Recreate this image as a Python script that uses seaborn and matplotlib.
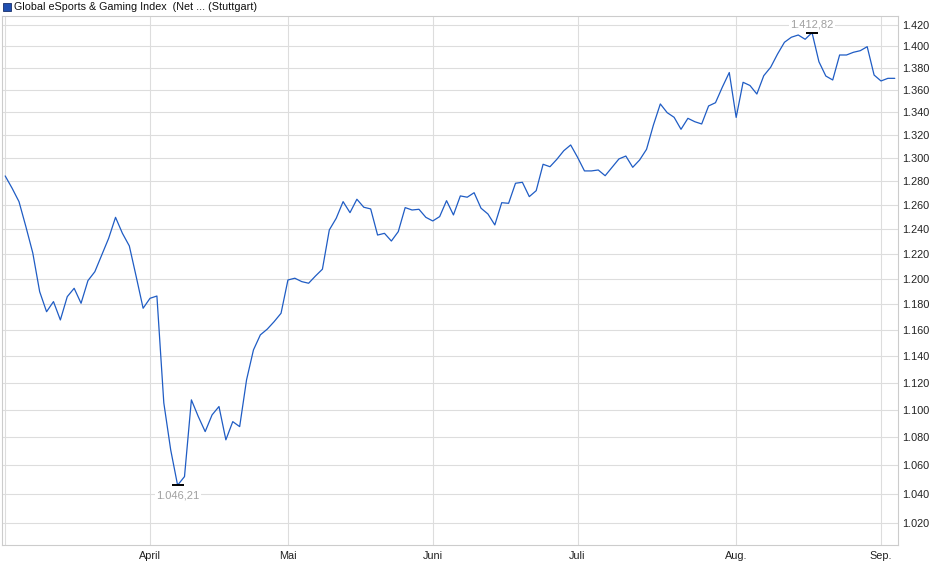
import numpy as np
import pandas as pd
import matplotlib
matplotlib.use('Agg')
import matplotlib.pyplot as plt
import seaborn as sns
from matplotlib.patches import Rectangle
from matplotlib.ticker import FixedLocator, NullLocator, FuncFormatter

# daily closing values (Stuttgart trading days, 3 Mar - 3 Sep 2025)
close = [
    1284.6, 1274.2, 1262.9, 1242.1, 1220.6, 1189.6, 1173.9, 1181.8, 1167.5, 1185.7,
    1192.3, 1180.5, 1198.4, 1205.5, 1219.0, 1232.5, 1249.8, 1236.6, 1226.3, 1201.5,
    1176.6, 1184.4, 1186.2, 1105.0, 1071.0, 1046.21, 1052.2, 1107.2, 1095.0, 1084.1,
    1096.2, 1102.3, 1078.2, 1091.3, 1087.7, 1122.0, 1144.5, 1156.0, 1160.4, 1166.2,
    1172.7, 1198.9, 1200.3, 1197.6, 1196.3, 1202.1, 1207.5, 1239.4, 1249.0, 1262.9,
    1253.7, 1264.9, 1258.2, 1256.8, 1235.2, 1236.6, 1230.3, 1238.0, 1257.9, 1255.9,
    1256.5, 1249.8, 1246.8, 1250.4, 1263.7, 1251.8, 1267.7, 1266.6, 1270.4, 1257.4,
    1252.6, 1243.5, 1262.0, 1261.5, 1278.4, 1279.2, 1267.1, 1272.1, 1294.6, 1292.5,
    1298.9, 1306.3, 1311.3, 1300.6, 1288.9, 1288.9, 1289.7, 1284.8, 1292.0, 1299.2,
    1301.7, 1292.0, 1298.3, 1307.5, 1328.8, 1347.5, 1339.7, 1335.6, 1325.0, 1334.7,
    1331.7, 1329.7, 1345.7, 1348.6, 1362.7, 1375.9, 1335.5, 1367.0, 1364.1, 1356.4,
    1373.0, 1380.7, 1392.9, 1403.8, 1408.5, 1410.6, 1406.6, 1412.82, 1385.8, 1372.7,
    1369.1, 1392.0, 1392.0, 1394.5, 1396.0, 1399.7, 1373.6, 1368.2, 1370.6, 1370.6,
]
day = list(range(len(close)))

# first trading day of each month (index into close)
month_pos = [0, 21, 41, 62, 83, 106, 127]
month_lbl = ['', 'April', 'Mai', 'Juni', 'Juli', 'Aug.', 'Sep.']
y_ticks = list(range(1020, 1421, 20))

title = 'Global eSports & Gaming Index  (Net ... (Stuttgart)'


def de_num(v, dec=0):
    s = f'{v:,.{dec}f}'
    return s.replace(',', 'X').replace('.', ',').replace('X', '.')


df = pd.DataFrame({'day': day, 'close': close})

sns.set_style('white')
plt.rcParams['font.family'] = ['Liberation Sans', 'DejaVu Sans']

W, H = 940, 579
fig = plt.figure(figsize=(W / 100, H / 100), dpi=100)
left, right, top, bottom = 2.3, 898.3, 16, 545
ax = fig.add_axes([left / W, 1 - bottom / H, (right - left) / W, (bottom - top) / H])

line_col = '#1f5cc4'
sns.lineplot(data=df, x='day', y='close', ax=ax, color=line_col, linewidth=0.9)

ax.set_yscale('log')
ax.set_ylim(1005.5, 1428.5)
ax.set_xlim(-0.42, 129.51)
ax.yaxis.set_major_locator(FixedLocator(y_ticks))
ax.yaxis.set_minor_locator(NullLocator())
ax.yaxis.set_major_formatter(FuncFormatter(lambda v, p: de_num(v)))
ax.yaxis.tick_right()
ax.set_xticks(month_pos, month_lbl)
ax.tick_params(axis='y', length=0, pad=3, labelsize=7.8, labelcolor='#222222')
ax.tick_params(axis='x', length=2, width=0.8, color='#d8d8d8', pad=2,
               labelsize=7.8, labelcolor='#222222')
ax.set_xlabel('')
ax.set_ylabel('')
ax.grid(True, color='#dddddd', linewidth=0.8)
for sp in ax.spines.values():
    sp.set_color('#cccccc')
    sp.set_linewidth(0.8)

# high / low markers
i_max = int(np.argmax(close))
i_min = int(np.argmin(close))
ax.plot([day[i_max], day[i_min]], [close[i_max], close[i_min]], ls='none',
        marker='_', markersize=9, mew=1.4, color='black')
box = dict(facecolor='white', edgecolor='none', pad=1)
ax.annotate(de_num(close[i_max], 2), (day[i_max], close[i_max]), xytext=(0, 8),
            textcoords='offset pixels', ha='center', va='center', fontsize=8,
            color='#a0a0a0', bbox=box)
ax.annotate(de_num(close[i_min], 2), (day[i_min], close[i_min]), xytext=(0, -10),
            textcoords='offset pixels', ha='center', va='center', fontsize=8,
            color='#a0a0a0', bbox=box)

# legend-like header
fig.patches.append(Rectangle((3 / W, 1 - 11 / H), 8 / W, 8 / H, transform=fig.transFigure,
                             facecolor='#1f4fb0', edgecolor='#1a2f6a', linewidth=0.6))
fig.text(14.5 / W, 1 - 7 / H, title, ha='left', va='center', fontsize=7.75, color='#111111')

fig.savefig('out.png', dpi=100)
